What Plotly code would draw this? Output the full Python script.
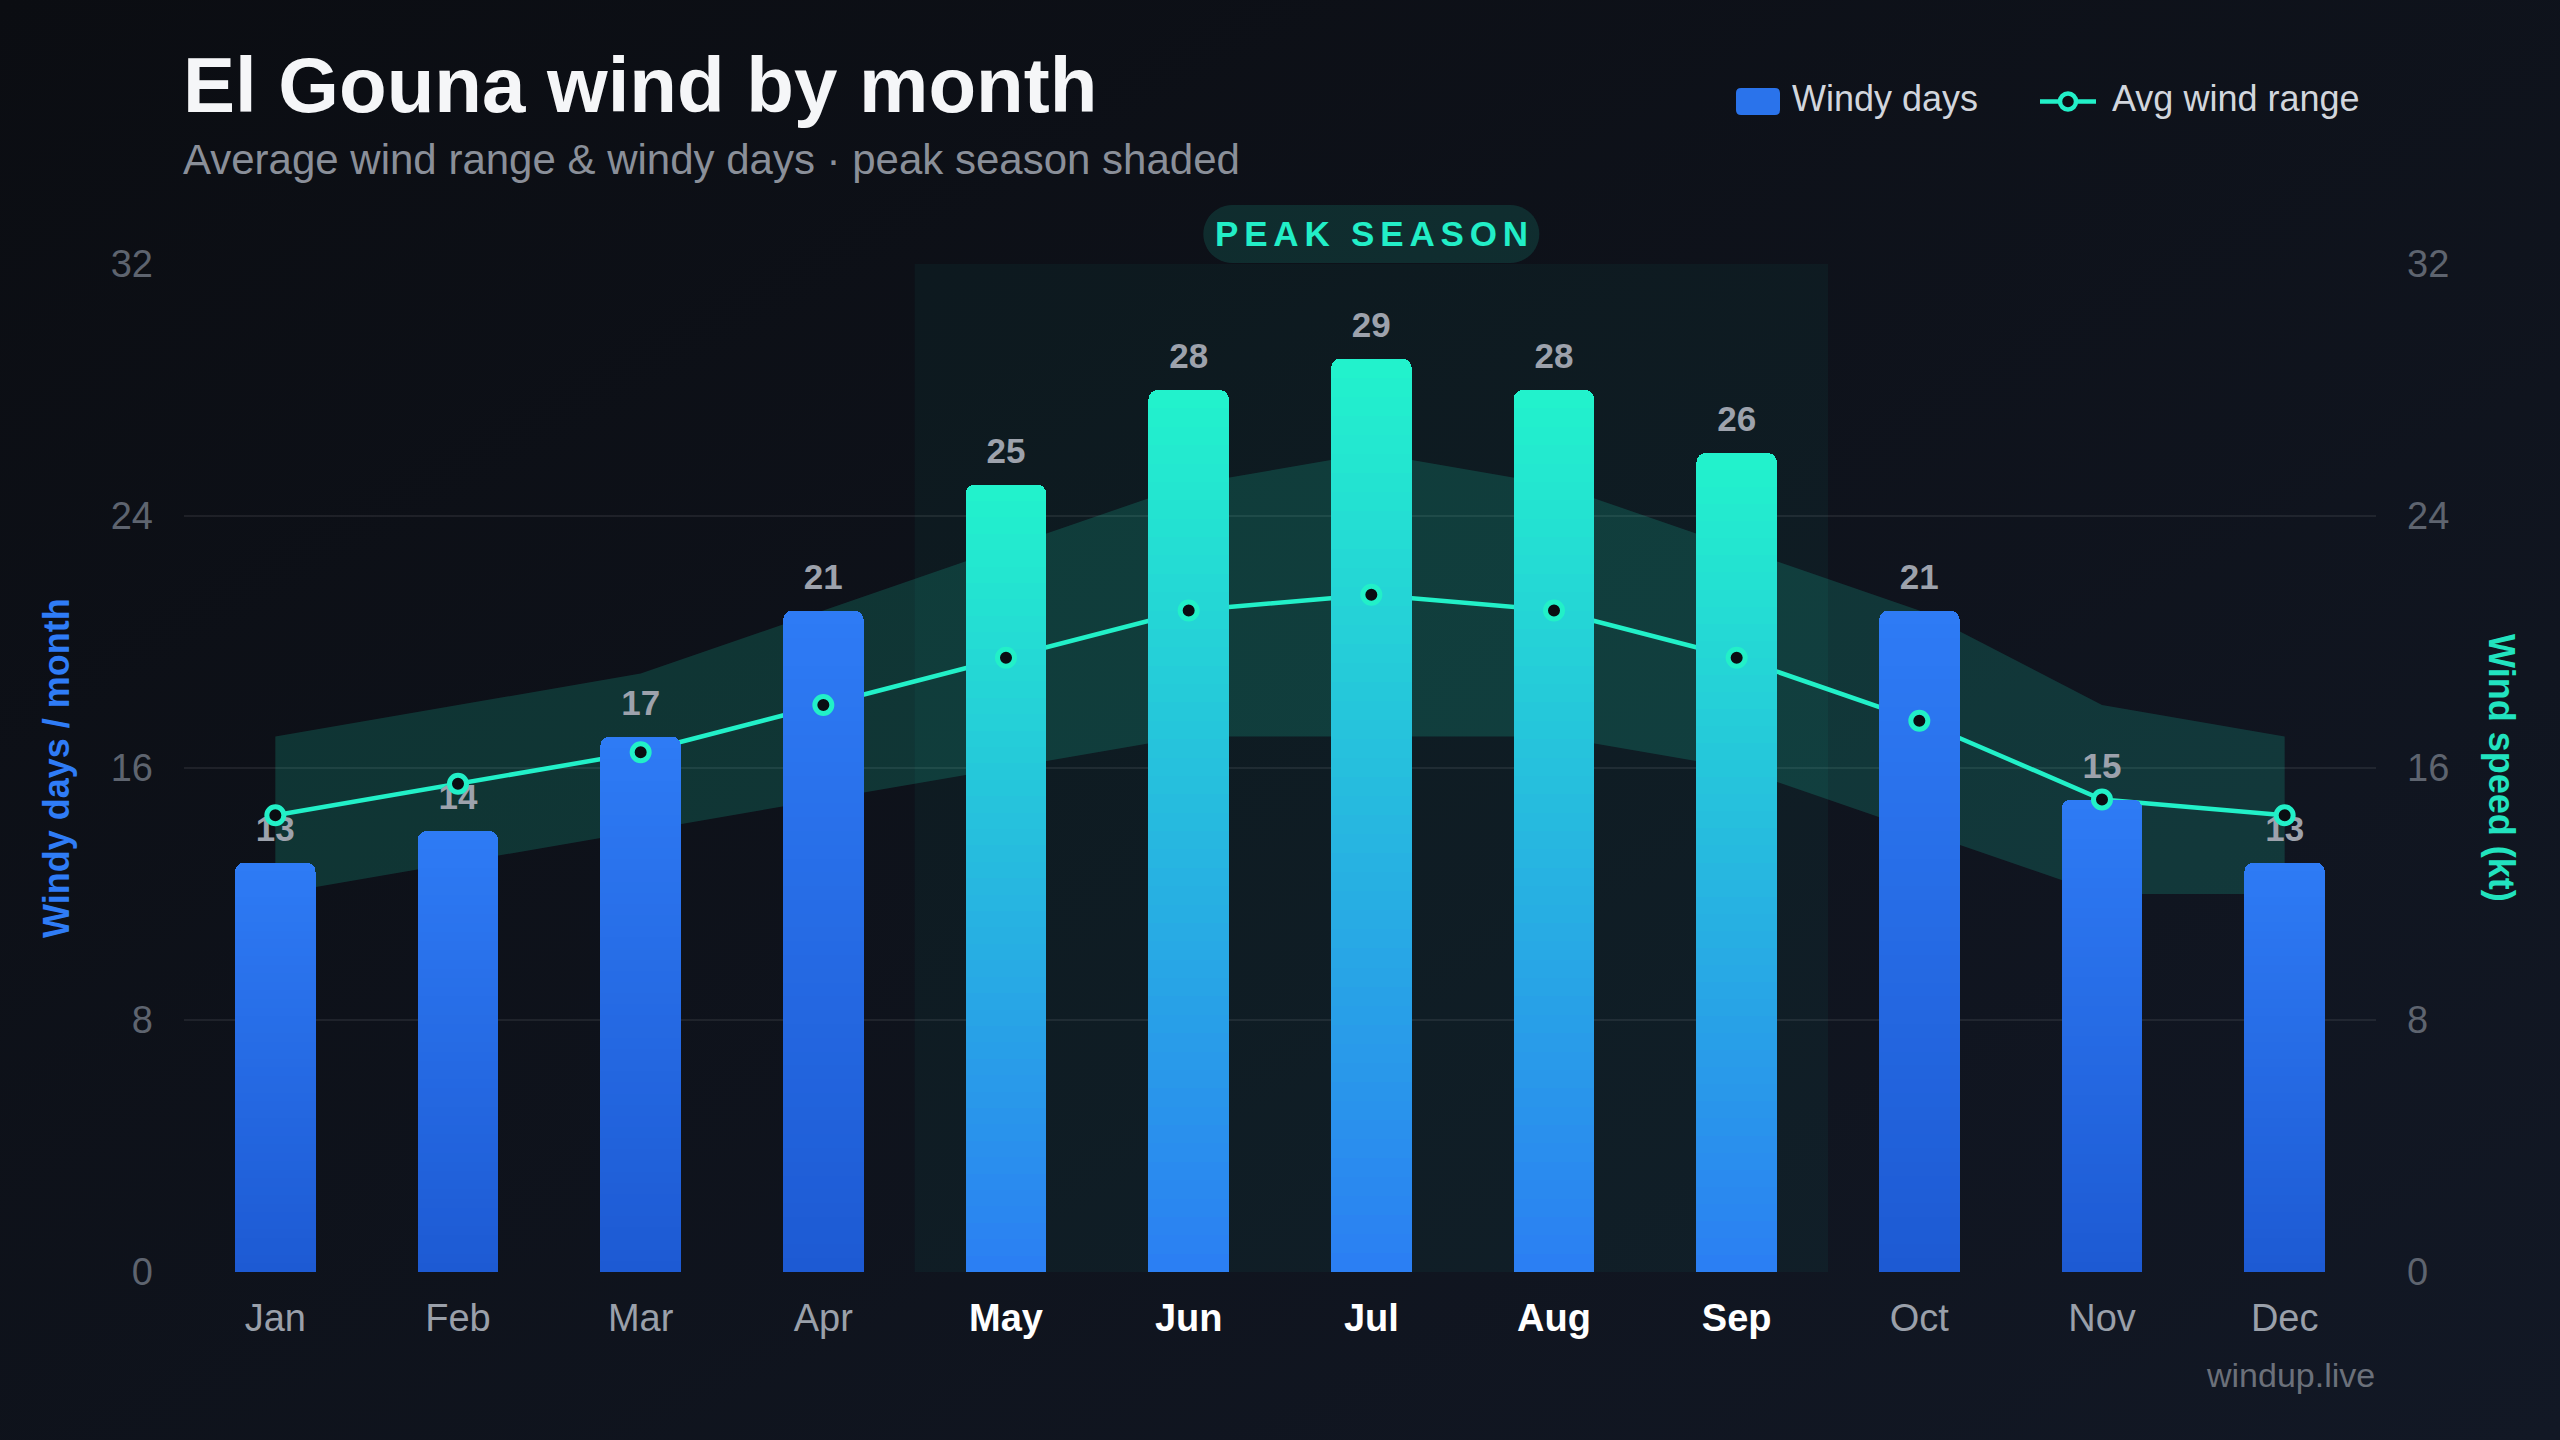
import base64
import math
import plotly.graph_objects as go

# ---------------- data ----------------
months = ["Jan", "Feb", "Mar", "Apr", "May", "Jun", "Jul", "Aug", "Sep", "Oct", "Nov", "Dec"]
windy_days = [13, 14, 17, 21, 25, 28, 29, 28, 26, 21, 15, 13]
wind_avg = [14.5, 15.5, 16.5, 18, 19.5, 21, 21.5, 21, 19.5, 17.5, 15, 14.5]
wind_low = [12, 13, 14, 15, 16, 17, 17, 17, 16, 14, 12, 12]
wind_high = [17, 18, 19, 21, 23, 25, 26, 25, 23, 21, 18, 17]
peak_months = ["May", "Jun", "Jul", "Aug", "Sep"]
y_ticks = [0, 8, 16, 24, 32]

# ---------------- geometry ----------------
W, H = 2560, 1440
ML, MR, MT, MB = 184, 184, 264, 168
PW, PH = W - ML - MR, H - MT - MB
FONT = "Liberation Sans, Arial, Helvetica, sans-serif"


def px2x(px):
    return (px - ML) / PW


def px2y(py):
    return (H - MB - py) / PH


def lerp(c1, c2, t):
    return "rgb(%d,%d,%d)" % tuple(round(a + (b - a) * t) for a, b in zip(c1, c2))


def pill_path(half_len, radius, cy, steps=24):
    pts = []
    for i in range(steps + 1):
        a = -math.pi / 2 + math.pi * i / steps
        pts.append((half_len + radius * math.cos(a), cy + radius * math.sin(a)))
    for i in range(steps + 1):
        a = math.pi / 2 + math.pi * i / steps
        pts.append((-half_len + radius * math.cos(a), cy + radius * math.sin(a)))
    return "M " + " L ".join("%.2f %.2f" % p for p in pts) + " Z"


BLUE_TOP, BLUE_BOT = (46, 123, 245), (29, 90, 211)
TEAL_TOP, TEAL_BOT = (34, 243, 204), (43, 126, 243)
TEAL = "#22f0c8"

fig = go.Figure()

# wind range band + average line (base subplot, drawn beneath bars)
fig.add_trace(go.Scatter(x=months, y=wind_low, mode="lines", line=dict(width=0),
                         hoverinfo="skip", showlegend=False, yaxis="y"))
fig.add_trace(go.Scatter(x=months, y=wind_high, mode="lines", line=dict(width=0),
                         fill="tonexty", fillcolor="rgba(34,240,200,0.16)",
                         hoverinfo="skip", showlegend=False, yaxis="y"))
fig.add_trace(go.Scatter(x=months, y=wind_avg, mode="lines", name="Avg wind range",
                         line=dict(color=TEAL, width=4.5), showlegend=False, yaxis="y"))

# gradient bars: stacked thin slices of each bar
N = 48
for k in range(N):
    t = (k + 0.5) / N
    cols = [lerp(TEAL_BOT, TEAL_TOP, t) if m in peak_months else lerp(BLUE_BOT, BLUE_TOP, t)
            for m in months]
    fig.add_trace(go.Bar(x=months, y=[v / N for v in windy_days], width=0.44,
                         marker=dict(color=cols, line=dict(width=0)),
                         hoverinfo="skip", showlegend=False, yaxis="y2"))

# value labels (transparent marker used only to lift the text off the bar top)
fig.add_trace(go.Scatter(x=months, y=windy_days, mode="markers+text",
                         text=[str(v) for v in windy_days], textposition="top center",
                         marker=dict(size=19, opacity=0),
                         textfont=dict(family=FONT, size=35, color="#9da2ac", weight=700),
                         hoverinfo="skip", showlegend=False, yaxis="y2"))

# avg wind markers (on top)
fig.add_trace(go.Scatter(x=months, y=wind_avg, mode="markers",
                         marker=dict(size=17, color="#0a0d12", line=dict(color=TEAL, width=5)),
                         showlegend=False, yaxis="y3"))

# ---------------- background ----------------
svg = ('<svg xmlns="http://www.w3.org/2000/svg" width="2560" height="1440" viewBox="0 0 2560 1440" '
       'preserveAspectRatio="none"><defs><linearGradient id="g" x1="0" y1="0" x2="1" y2="1">'
       '<stop offset="0" stop-color="#0b0d12"/><stop offset="1" stop-color="#121825"/>'
       '</linearGradient></defs><rect width="2560" height="1440" fill="url(#g)"/></svg>')
bg_src = "data:image/svg+xml;base64," + base64.b64encode(svg.encode()).decode()

ticktext = ['<b><span style="color:#ffffff">%s</span></b>' % m if m in peak_months else m
            for m in months]

axis_common = dict(range=[0, 32], tickvals=y_ticks, zeroline=False, showline=False,
                   ticks="", fixedrange=True)

shapes = [
    # peak season shading
    dict(type="rect", xref="x", yref="y", x0=3.5, x1=8.5, y0=0, y1=32,
         fillcolor="rgba(34,240,200,0.045)", line=dict(width=0), layer="below"),
    # peak season pill
    dict(type="path", xref="x", yref="paper", xsizemode="pixel", ysizemode="pixel",
         xanchor=6, yanchor=1, path=pill_path(139, 29, 30),
         fillcolor="rgba(34,240,200,0.13)", line=dict(width=0), layer="above"),
    # legend: bar swatch
    dict(type="path", xref="paper", yref="paper", xsizemode="pixel", ysizemode="pixel",
         xanchor=px2x(1736), yanchor=px2y(115),
         path="M 5 0 L 39 0 Q 44 0 44 5 L 44 22 Q 44 27 39 27 L 5 27 Q 0 27 0 22 L 0 5 Q 0 0 5 0 Z",
         fillcolor="#2a73eb", line=dict(width=0)),
    # legend: line sample
    dict(type="line", xref="paper", yref="paper", x0=px2x(2040), x1=px2x(2096),
         y0=px2y(101.5), y1=px2y(101.5), line=dict(color=TEAL, width=4.5)),
    dict(type="circle", xref="paper", yref="paper", xsizemode="pixel", ysizemode="pixel",
         xanchor=px2x(2068), yanchor=px2y(101.5), x0=-8, x1=8, y0=-8, y1=8,
         fillcolor="#0b0e13", line=dict(color=TEAL, width=4.5)),
]

sp = "\u2006"
annotations = [
    dict(text="El Gouna wind by month", xref="paper", yref="paper", x=px2x(181), y=px2y(85),
         xanchor="left", yanchor="middle", showarrow=False,
         font=dict(family=FONT, size=78, color="#f5f6f8", weight=700)),
    dict(text="Average wind range &amp; windy days · peak season shaded", xref="paper", yref="paper",
         x=px2x(181), y=px2y(160), xanchor="left", yanchor="middle", showarrow=False,
         font=dict(family=FONT, size=42, color="#8a8f99")),
    dict(text="Windy days", xref="paper", yref="paper", x=px2x(1790), y=px2y(99),
         xanchor="left", yanchor="middle", showarrow=False,
         font=dict(family=FONT, size=36, color="#d2d6dd")),
    dict(text="Avg wind range", xref="paper", yref="paper", x=px2x(2110), y=px2y(99),
         xanchor="left", yanchor="middle", showarrow=False,
         font=dict(family=FONT, size=36, color="#d2d6dd")),
    dict(text=sp.join("PEAK SEASON"), xref="x", yref="paper", x=6, y=px2y(233),
         xanchor="center", yanchor="middle", showarrow=False,
         font=dict(family=FONT, size=35, color="#22eec7", weight=700)),
    dict(text="Windy days / month", xref="paper", yref="paper", x=px2x(56), y=0.5,
         xanchor="center", yanchor="middle", textangle=-90, showarrow=False,
         font=dict(family=FONT, size=36, color="#2f7cf6", weight=700)),
    dict(text="Wind speed (kt)", xref="paper", yref="paper", x=px2x(2502), y=0.5,
         xanchor="center", yanchor="middle", textangle=90, showarrow=False,
         font=dict(family=FONT, size=36, color="#22e3bf", weight=700)),
    dict(text="windup.live", xref="paper", yref="paper", x=px2x(2377), y=px2y(1375),
         xanchor="right", yanchor="middle", showarrow=False,
         font=dict(family=FONT, size=34, color="#6b707a")),
]

fig.update_layout(
    width=W, height=H,
    margin=dict(l=ML, r=MR, t=MT, b=MB, pad=0),
    paper_bgcolor="#0e1118", plot_bgcolor="rgba(0,0,0,0)",
    barmode="stack", barcornerradius=9,
    showlegend=False,
    font=dict(family=FONT),
    images=[dict(source=bg_src, xref="paper", yref="paper", x=-ML / PW, y=1 + MT / PH,
                 sizex=W / PW, sizey=H / PH, xanchor="left", yanchor="top",
                 sizing="stretch", layer="below")],
    xaxis=dict(type="category", range=[-0.5, 11.5], tickvals=months, ticktext=ticktext,
               showgrid=False, zeroline=False, showline=False, ticks="",
               tickfont=dict(family=FONT, size=38, color="#9aa0aa"), ticklabelstandoff=20,
               fixedrange=True),
    yaxis=dict(**axis_common, showticklabels=False, showgrid=True,
               gridcolor="rgba(255,255,255,0.075)", gridwidth=2),
    yaxis2=dict(**axis_common, overlaying="y", side="left", showgrid=False,
                tickfont=dict(family=FONT, size=38, color="#5e646f"), ticklabelstandoff=30),
    yaxis3=dict(**axis_common, overlaying="y", side="right", showgrid=False,
                tickfont=dict(family=FONT, size=38, color="#5e646f"), ticklabelstandoff=30),
    shapes=shapes,
    annotations=annotations,
)

fig.write_html("out.html")
